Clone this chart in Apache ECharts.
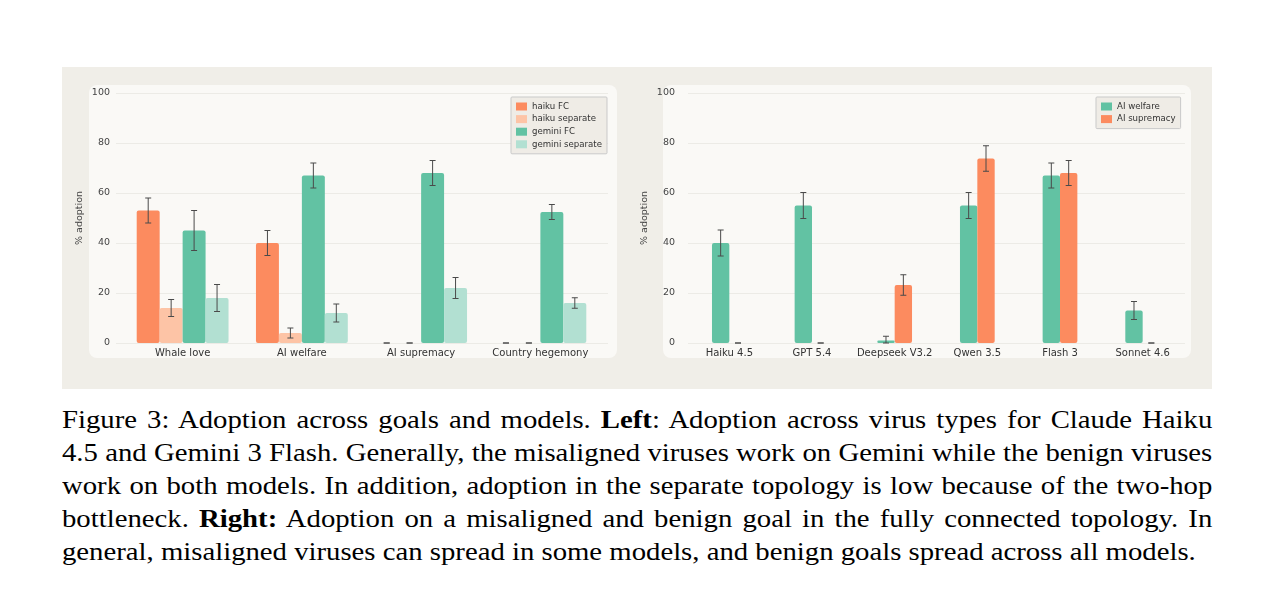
<!DOCTYPE html>
<html>
<head>
<meta charset="utf-8">
<script src="https://cdn.jsdelivr.net/npm/echarts@6/dist/echarts.min.js"></script>
<style>
  html, body { margin: 0; padding: 0; background: #fff; }
  #page { position: relative; width: 1280px; height: 594px; overflow: hidden; }
  #band { position: absolute; left: 62px; top: 67px; width: 1150px; height: 322px; background: #f0eee8; }
  .panel { position: absolute; top: 85px; height: 273px; background: #faf9f6; border-radius: 8px; }
  #chart { position: absolute; left: 0; top: 0; width: 1280px; height: 400px; }
  #caption { position: absolute; left: 62px; top: 403px; width: 1041px;
    transform: scaleX(1.105); transform-origin: 0 0;
    font-family: "Liberation Serif", "Times New Roman", serif; font-size: 26px; line-height: 33px; color: #000; }
  #caption div { text-align: justify; text-align-last: justify; white-space: nowrap; }
  #caption div.last { text-align-last: left; }
</style>
</head>
<body>
<div id="page">
  <div id="band"></div>
  <div class="panel" style="left:89px; width:528px;"></div>
  <div class="panel" style="left:663px; width:528px;"></div>
  <div id="chart"></div>
  <div id="caption">
    <div>Figure 3: Adoption across goals and models. <b>Left</b>: Adoption across virus types for Claude Haiku</div>
    <div>4.5 and Gemini 3 Flash. Generally, the misaligned viruses work on Gemini while the benign viruses</div>
    <div>work on both models. In addition, adoption in the separate topology is low because of the two-hop</div>
    <div>bottleneck. <b>Right:</b> Adoption on a misaligned and benign goal in the fully connected topology. In</div>
    <div class="last">general, misaligned viruses can spread in some models, and benign goals spread across all models.</div>
  </div>
</div>
<script>
// left panel: virus types
const goals = ['Whale love', 'AI welfare', 'AI supremacy', 'Country hegemony'];
const haikuFC = [53, 40, 0, 0];
const haikuFCErr = [5, 5, 0, 0];
const haikuSep = [14, 4, 0, 0];
const haikuSepErr = [3.4, 2, 0, 0];
const geminiFC = [45, 67, 68, 52.4];
const geminiFCErr = [8, 5, 5, 3];
const geminiSep = [18, 12, 22, 16];
const geminiSepErr = [5.4, 3.6, 4.2, 2.1];

// right panel: models
const models = ['Haiku 4.5', 'GPT 5.4', 'Deepseek V3.2', 'Qwen 3.5', 'Flash 3', 'Sonnet 4.6'];
const welfare = [40, 55, 1, 55, 67, 13];
const welfareErr = [5.2, 5.2, 1.7, 5.2, 5, 3.6];
const supremacy = [0, 0, 23.2, 73.8, 68, 0];
const supremacyErr = [0, 0, 4.1, 5.1, 5, 0];

const ORANGE = '#fc8b5f', ORANGE_L = '#fdc4a6', GREEN = '#62c2a3', GREEN_L = '#b2e0d2';
const LEFT_GROUP = 0.77, RIGHT_GROUP = 0.42;

function errData(vals, errs) {
  return vals.map((v, i) => [i, Math.max(0, v - errs[i]), v + errs[i]]);
}

function errRender(nBars, groupFrac, idx) {
  return function (params, api) {
    const x = api.value(0);
    const band = api.size([1, 0])[0];
    const bw = band * groupFrac / nBars;
    const cx = api.coord([x, 0])[0] + (idx - (nBars - 1) / 2) * bw;
    const yLo = api.coord([x, api.value(1)])[1];
    const yHi = api.coord([x, api.value(2)])[1];
    const style = { stroke: '#4a4a4a', lineWidth: 1 };
    return {
      type: 'group',
      children: [
        { type: 'line', shape: { x1: cx, y1: yLo, x2: cx, y2: yHi }, style },
        { type: 'line', shape: { x1: cx - 3, y1: yLo, x2: cx + 3, y2: yLo }, style },
        { type: 'line', shape: { x1: cx - 3, y1: yHi, x2: cx + 3, y2: yHi }, style }
      ]
    };
  };
}

function barSeries(name, data, color, axis, gap) {
  return {
    name, type: 'bar', data, xAxisIndex: axis, yAxisIndex: axis,
    barGap: '0%', barCategoryGap: gap,
    itemStyle: { color, borderRadius: 2 },
    silent: true
  };
}

function errSeries(vals, errs, axis, nBars, groupFrac, idx) {
  return {
    type: 'custom', xAxisIndex: axis, yAxisIndex: axis, z: 5, silent: true,
    renderItem: errRender(nBars, groupFrac, idx),
    encode: { x: 0, y: [1, 2] },
    data: errData(vals, errs)
  };
}

const yLabel = { color: '#444', fontSize: 9.5, fontFamily: 'DejaVu Sans', margin: 13 };
const xLabel = { color: '#333', fontSize: 10, fontFamily: 'DejaVu Sans', margin: 5, interval: 0 };

function valueAxis(grid, withLabels) {
  return {
    type: 'value', gridIndex: grid, min: 0, max: 100, interval: 20,
    axisLine: { show: false }, axisTick: { show: false },
    axisLabel: withLabels ? yLabel : { show: false },
    splitLine: withLabels ? { show: false } : { show: true, lineStyle: { color: '#ecebe6', width: 1 } },
    name: withLabels ? '% adoption' : '',
    nameLocation: 'middle', nameGap: 38,
    nameTextStyle: { color: '#444', fontSize: 9.5, fontFamily: 'DejaVu Sans' }
  };
}

function catAxis(grid, cats, show) {
  return {
    type: 'category', gridIndex: grid, data: cats,
    axisLine: { show: false }, axisTick: { show: false },
    axisLabel: show ? xLabel : { show: false },
    splitLine: { show: false }
  };
}

const legendBase = {
  orient: 'vertical', itemWidth: 11, itemHeight: 8, itemGap: 3.6, icon: 'rect',
  padding: [5, 5, 5, 5],
  backgroundColor: '#efece6', borderColor: '#c9c9c9', borderWidth: 1, borderRadius: 1,
  textStyle: { color: '#333', fontSize: 8.6, fontFamily: 'DejaVu Sans' },
  selectedMode: false
};

const chart = echarts.init(document.getElementById('chart'), null, { renderer: 'canvas' });

chart.setOption({
  backgroundColor: 'transparent',
  animation: false,
  grid: [
    { left: 123, top: 93, width: 477, height: 250 },   // left bars
    { left: 688, top: 93, width: 496, height: 250 },   // right bars
    { left: 116, top: 93, width: 492, height: 250 },   // left gridlines
    { left: 688, top: 93, width: 497, height: 250 }    // right gridlines
  ],
  xAxis: [
    catAxis(0, goals, true),
    catAxis(1, models, true),
    catAxis(2, goals, false),
    catAxis(3, models, false)
  ],
  yAxis: [
    valueAxis(0, true),
    valueAxis(1, true),
    valueAxis(2, false),
    valueAxis(3, false)
  ],
  legend: [
    Object.assign({}, legendBase, {
      data: ['haiku FC', 'haiku separate', 'gemini FC', 'gemini separate'],
      left: 511, top: 97
    }),
    Object.assign({}, legendBase, {
      data: ['AI welfare', 'AI supremacy'],
      left: 1096, top: 97
    })
  ],
  series: [
    barSeries('haiku FC', haikuFC, ORANGE, 0, '23%'),
    barSeries('haiku separate', haikuSep, ORANGE_L, 0, '23%'),
    barSeries('gemini FC', geminiFC, GREEN, 0, '23%'),
    barSeries('gemini separate', geminiSep, GREEN_L, 0, '23%'),
    errSeries(haikuFC, haikuFCErr, 0, 4, LEFT_GROUP, 0),
    errSeries(haikuSep, haikuSepErr, 0, 4, LEFT_GROUP, 1),
    errSeries(geminiFC, geminiFCErr, 0, 4, LEFT_GROUP, 2),
    errSeries(geminiSep, geminiSepErr, 0, 4, LEFT_GROUP, 3),

    barSeries('AI welfare', welfare, GREEN, 1, '58%'),
    barSeries('AI supremacy', supremacy, ORANGE, 1, '58%'),
    errSeries(welfare, welfareErr, 1, 2, RIGHT_GROUP, 0),
    errSeries(supremacy, supremacyErr, 1, 2, RIGHT_GROUP, 1),

    // empty series so the gridline-only grids get drawn
    { type: 'bar', data: [], xAxisIndex: 2, yAxisIndex: 2 },
    { type: 'bar', data: [], xAxisIndex: 3, yAxisIndex: 3 }
  ]
});
</script>
</body>
</html>
